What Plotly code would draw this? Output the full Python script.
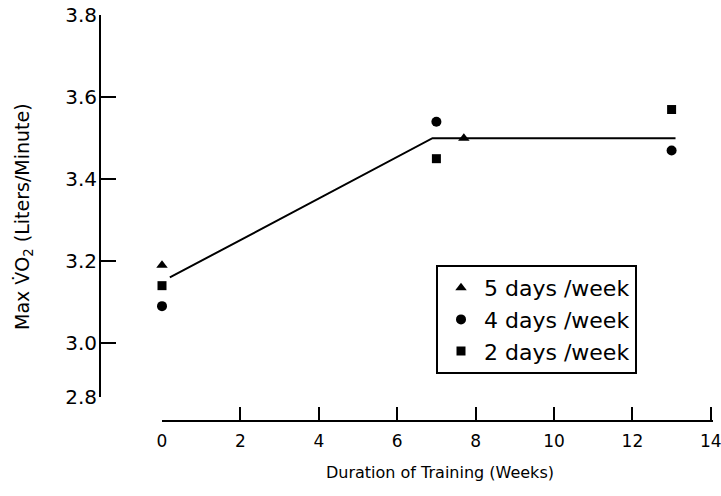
import plotly.graph_objects as go

# ---- data ----
weeks_5 = [0, 7.7]
vo2_5 = [3.19, 3.50]

weeks_4 = [0, 7, 13]
vo2_4 = [3.09, 3.54, 3.47]

weeks_2 = [0, 7, 13]
vo2_2 = [3.14, 3.45, 3.57]

trend_weeks = [0.2, 6.9, 13.1]
trend_vo2 = [3.16, 3.50, 3.50]

x_tick_vals = [0, 2, 4, 6, 8, 10, 12, 14]
x_tick_text = ["0", "2", "4", "6", "8", "10", "12", "14"]
# bottom tick sits on a broken (compressed) segment of the axis
y_break_value = 2.867
y_tick_vals = [y_break_value, 3.0, 3.2, 3.4, 3.6, 3.8]
y_tick_text = ["2.8", "3.0", "3.2", "3.4", "3.6", "3.8"]

W, H = 721, 496
FONT = "DejaVu Sans, Liberation Sans, Arial, sans-serif"


def px_x(px):
    return px / W


def px_y(py):
    return (H - py) / H


fig = go.Figure()

fig.add_trace(go.Scatter(
    x=trend_weeks, y=trend_vo2, mode="lines",
    line=dict(color="black", width=2), showlegend=False, hoverinfo="skip",
    cliponaxis=False,
))
fig.add_trace(go.Scatter(
    x=weeks_5, y=vo2_5, mode="markers", name="5 days /week",
    marker=dict(symbol="triangle-up", size=10, color="black"), cliponaxis=False,
))
fig.add_trace(go.Scatter(
    x=weeks_4, y=vo2_4, mode="markers", name="4 days /week",
    marker=dict(symbol="circle", size=10, color="black"), cliponaxis=False,
))
fig.add_trace(go.Scatter(
    x=weeks_2, y=vo2_2, mode="markers", name="2 days /week",
    marker=dict(symbol="square", size=9, color="black"), cliponaxis=False,
))

# x axis geometry
px_per_week = 39.2
x0_px = 162
x_max = 14.05
# y axis geometry: 3.0 at 343 px, 409.6 px per litre/min
y_top = 3.802
y_px_per_unit = 409.6
y_top_px = 343 - (y_top - 3.0) * y_px_per_unit
y_bot_px = 343 + (3.0 - y_break_value) * y_px_per_unit

fig.update_layout(
    width=W, height=H,
    margin=dict(l=0, r=0, t=0, b=0),
    paper_bgcolor="white", plot_bgcolor="white",
    font=dict(family=FONT, color="black"),
    xaxis=dict(
        domain=[px_x(x0_px), px_x(x0_px + x_max * px_per_week)],
        range=[0, x_max],
        anchor="free", position=px_y(421),
        showgrid=False, zeroline=False,
        showline=True, linecolor="black", linewidth=2,
        ticks="inside", ticklen=13, tickwidth=2, tickcolor="black",
        tickvals=x_tick_vals, ticktext=x_tick_text,
        tickfont=dict(size=17, family=FONT),
        ticklabelstandoff=5,
        ticklabeloverflow="allow",
        automargin=False,
    ),
    yaxis=dict(
        domain=[px_y(y_bot_px), px_y(y_top_px)],
        range=[y_break_value, y_top],
        anchor="free", position=px_x(100),
        showgrid=False, zeroline=False,
        showline=True, linecolor="black", linewidth=2,
        ticks="inside", ticklen=15, tickwidth=2, tickcolor="black",
        tickvals=y_tick_vals, ticktext=y_tick_text,
        tickfont=dict(size=20, family=FONT),
        ticklabelstandoff=-2,
        ticklabeloverflow="allow",
        automargin=False,
    ),
    legend=dict(
        x=px_x(436), y=px_y(265), xanchor="left", yanchor="top",
        bordercolor="black", borderwidth=2, bgcolor="white",
        font=dict(size=22, family=FONT),
        itemwidth=36,
    ),
    annotations=[
        dict(text="Max V̇O<sub>2</sub> (Liters/Minute)", textangle=-90,
             x=px_x(23), y=px_y(217), xref="paper", yref="paper",
             xanchor="center", yanchor="middle",
             showarrow=False, font=dict(size=19, family=FONT)),
        dict(text="Duration of Training (Weeks)",
             x=px_x(440), y=px_y(472), xref="paper", yref="paper",
             xanchor="center", yanchor="middle",
             showarrow=False, font=dict(size=16, family=FONT)),
    ],
)

fig.write_html(
    "out.html",
    config={"displayModeBar": False},
    post_script="document.body.style.margin='0px';",
)
